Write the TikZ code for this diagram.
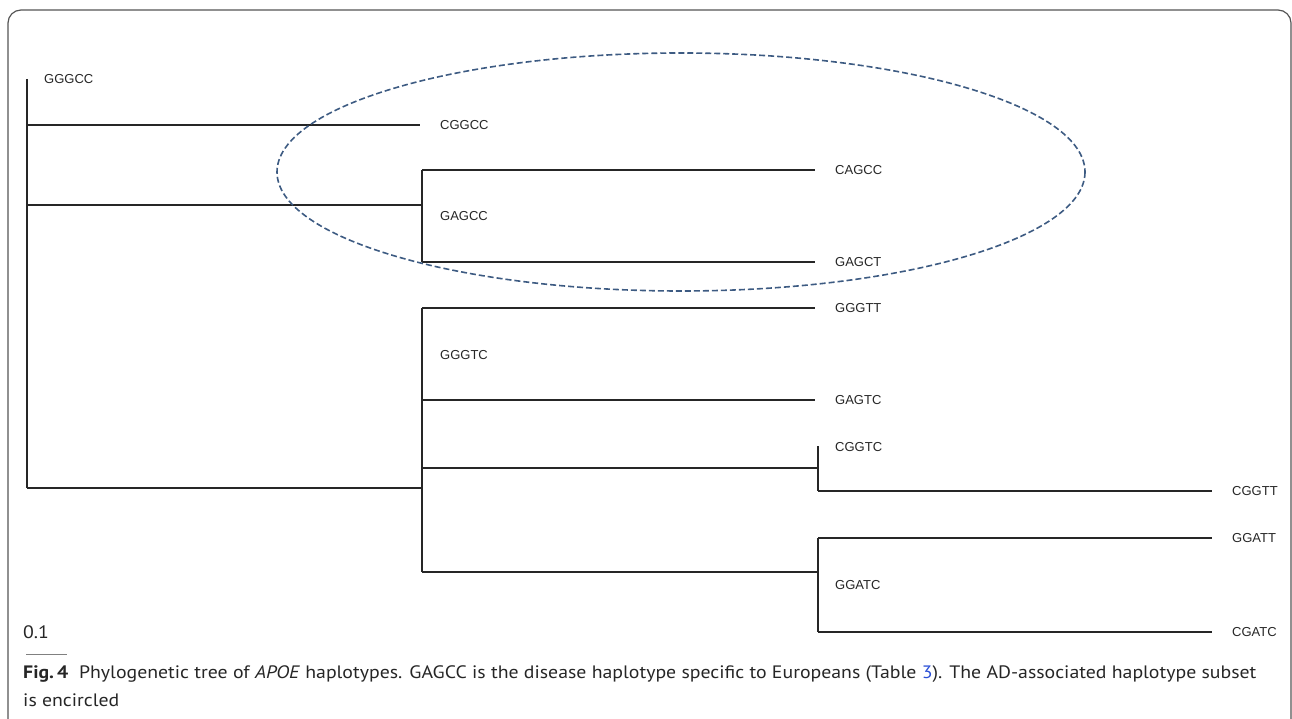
\documentclass[tikz,border=0pt]{standalone}
\usepackage{fontspec}
\setmainfont{Liberation Sans}
\newfontfamily\capfont[FakeStretch=1.1]{PT Sans}
\usepackage{xcolor}
\usetikzlibrary{positioning}
\definecolor{inkgray}{HTML}{262626}
\definecolor{ringblue}{HTML}{3D5B82}
\definecolor{linkblue}{HTML}{2B50D6}
\definecolor{framegray}{HTML}{555555}

\begin{document}
\begin{tikzpicture}[x=1pt,y=-1pt,br/.style={draw=inkgray,line width=1.3pt},lbl/.style={inner sep=0pt,font=\fontsize{13}{15}\selectfont,text=inkgray},tip/.style={lbl,right=20pt of #1},ring/.style={draw=ringblue,line width=1.6pt,dash pattern=on 6pt off 3pt},frame/.style={draw=framegray,line width=1.2pt,rounded corners=13pt}]
\useasboundingbox (0,0) rectangle (1292,719);
\draw[frame] (8,740) |- (1291,10) -- (1291,740);
% root
\coordinate (r0) at (27,79);\coordinate (r1) at (27,488);
\draw[br] (r0)--(r1);
\node[lbl,anchor=west] (GGGCC) at (44,79) {GGGCC};
% CGGCC
\coordinate (a0) at (27,125);\coordinate (a1) at (420,125);
\node[tip=a1] (CGGCC) {CGGCC};
\draw[br] (a0)--(a1);
% GAGCC clade
\coordinate (b0) at (27,205);\coordinate (b1) at (422,205);
\coordinate (b2) at (422,170);\coordinate (b3) at (422,262);
\coordinate (b4) at (815,170);\coordinate (b5) at (815,262);
\node[lbl,anchor=west] (GAGCC) at (440,216) {GAGCC};
\node[tip=b4] (CAGCC) {CAGCC};
\node[tip=b5] (GAGCT) {GAGCT};
\draw[br] (b0)--(b1);\draw[br] (b2)--(b3);
\draw[br] (b2)--(b4);\draw[br] (b3)--(b5);
% GGGTC clade
\coordinate (c0) at (27,488);\coordinate (c1) at (422,488);
\coordinate (c2) at (422,308);\coordinate (c3) at (422,572);
\coordinate (c4) at (815,308);\coordinate (c5) at (422,400);\coordinate (c6) at (815,400);
\node[lbl,anchor=west] (GGGTC) at (440,355) {GGGTC};
\node[tip=c4] (GGGTT) {GGGTT};
\node[tip=c6] (GAGTC) {GAGTC};
\draw[br] (c0)--(c1);\draw[br] (c2)--(c3);
\draw[br] (c2)--(c4);\draw[br] (c5)--(c6);
% CGGTC
\coordinate (d0) at (422,468);\coordinate (d1) at (818,468);
\coordinate (d2) at (818,446);\coordinate (d3) at (818,491);\coordinate (d4) at (1212,491);
\node[lbl,anchor=west] (CGGTC) at (835,447) {CGGTC};
\node[tip=d4] (CGGTT) {CGGTT};
\draw[br] (d0)--(d1);\draw[br] (d2)--(d3);\draw[br] (d3)--(d4);
% GGATC
\coordinate (e0) at (422,572);\coordinate (e1) at (818,572);
\coordinate (e2) at (818,538);\coordinate (e3) at (818,632);
\coordinate (e4) at (1212,538);\coordinate (e5) at (1212,632);
\node[lbl,anchor=west] (GGATC) at (835,585) {GGATC};
\node[tip=e4] (GGATT) {GGATT};
\node[tip=e5] (CGATC) {CGATC};
\draw[br] (e0)--(e1);\draw[br] (e2)--(e3);
\draw[br] (e2)--(e4);\draw[br] (e3)--(e5);
% encircled subset
\draw[ring] (681,172) ellipse [x radius=404,y radius=119];
% scale bar
\node[inner sep=0pt,anchor=west,font=\capfont\fontsize{18}{20}\selectfont,text=inkgray] (scale) at (23,632) {0.1};
\coordinate (s0) at (26,654);\coordinate (s1) at (67,654);
\draw[draw=gray,line width=0.8pt] (s0)--(s1);
% caption
\node[inner sep=0pt,anchor=north west,align=left,font=\capfont\fontsize{18}{28}\selectfont,text=black!85] (caption) at (23,665) {\textbf{Fig.\,4}\hspace{0.6em}Phylogenetic tree of \textit{APOE} haplotypes. GAGCC is the disease haplotype specific to Europeans (Table \textcolor{linkblue}{3}). The AD-associated haplotype subset\\is encircled};
\end{tikzpicture}
\end{document}
